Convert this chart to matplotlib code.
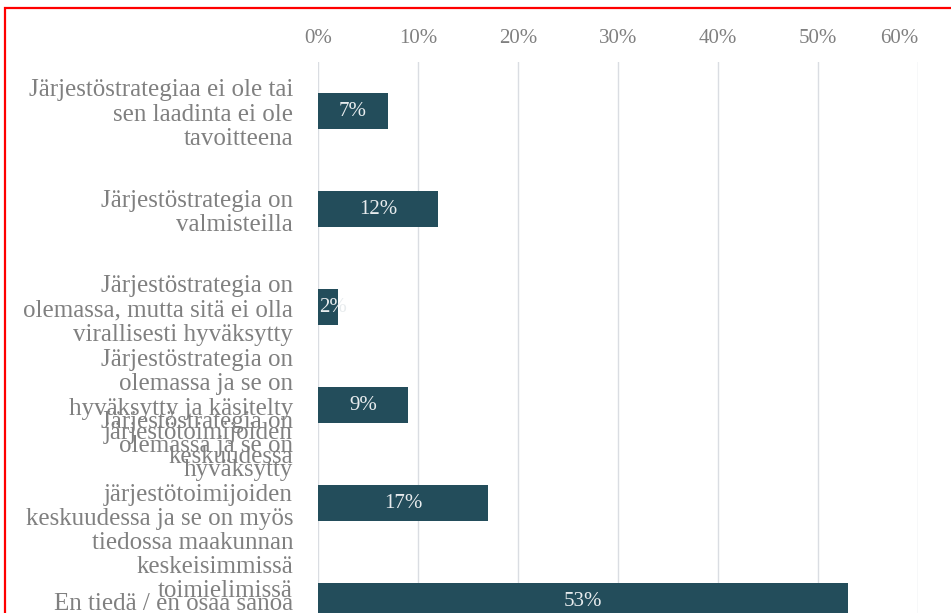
import matplotlib
matplotlib.use("Agg")
import matplotlib.pyplot as plt
from matplotlib.patches import Rectangle

# survey answers, top to bottom
categories = [
    "Järjestöstrategiaa ei ole tai\nsen laadinta ei ole\ntavoitteena",
    "Järjestöstrategia on\nvalmisteilla",
    "Järjestöstrategia on\nolemassa, mutta sitä ei olla\nvirallisesti hyväksytty",
    "Järjestöstrategia on\nolemassa ja se on\nhyväksytty ja käsitelty\njärjestötoimijoiden\nkeskuudessa",
    "Järjestöstrategia on\nolemassa ja se on\nhyväksytty\njärjestötoimijoiden\nkeskuudessa ja se on myös\ntiedossa maakunnan\nkeskeisimmissä\ntoimielimissä",
    "En tiedä / en osaa sanoa",
]
values = [7, 12, 2, 9, 17, 53]
xticks = [0, 10, 20, 30, 40, 50, 60]
xticklabels = [f"{t}%" for t in xticks]

BAR = "#234d5b"
GREY = "#808080"
FONT = "Liberation Serif"

plt.rcParams["font.family"] = FONT

W, H = 951, 613
fig = plt.figure(figsize=(W / 100, H / 100), dpi=100)
# axes runs past the bottom edge: the source image is cropped
ax = fig.add_axes([318 / W, (613 - 650) / H, 600 / W, 588 / H])

ypos = list(range(len(values)))
bars = ax.barh(ypos, values, height=0.37, color=BAR, zorder=2)

ax.set_xlim(0, 60)
ax.set_ylim(len(values) - 0.5, -0.5)
ax.set_xticks(xticks)
ax.set_xticklabels(xticklabels)
ax.xaxis.tick_top()
ax.tick_params(axis="x", length=0, pad=10, labelsize=15, labelcolor=GREY)
ax.set_yticks(ypos)
ax.set_yticklabels(categories, fontsize=18, color=GREY, linespacing=1.13)
ax.tick_params(axis="y", length=0, pad=18)
ax.get_xticklabels()[-1].set_horizontalalignment("right")

ax.grid(axis="x", color="#dadde2", lw=1.0, zorder=0)
for s in ax.spines.values():
    s.set_visible(False)

for b, v in zip(bars, values):
    y = b.get_y() + b.get_height() / 2
    if v < 3:
        t = ax.text(0.1, y, f"{v}%", ha="left", va="center", fontsize=15,
                    color="#e8ecee", zorder=3)
    else:
        t = ax.text(v / 2, y, f"{v}%", ha="center", va="center", fontsize=15,
                    color="#e8ecee", zorder=3)
    t.set_clip_path(b)

# red frame of the screenshot (right and bottom sides fall outside)
fig.patches.append(Rectangle((5 / W, -0.1), 2, (613 - 8) / H + 0.1,
                             transform=fig.transFigure, fill=False,
                             ec="red", lw=1.6))

fig.savefig("out.png", dpi=100)
